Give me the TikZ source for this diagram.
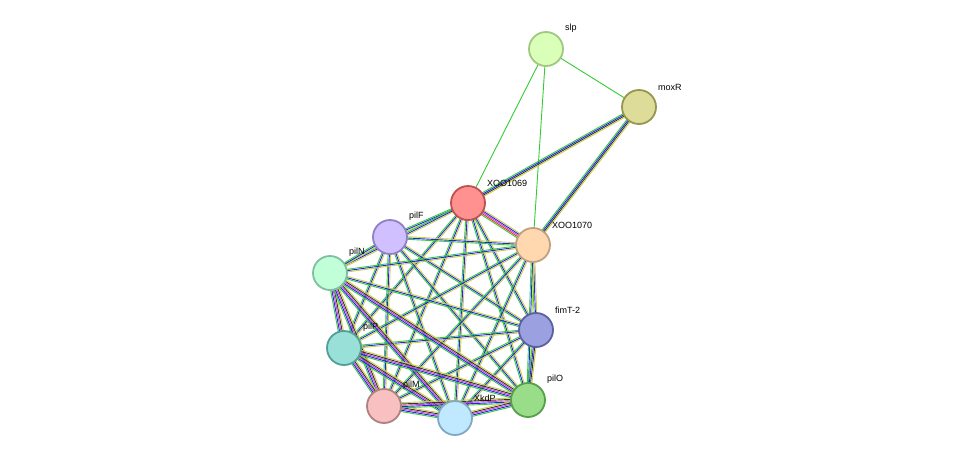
\documentclass[tikz,border=0pt]{standalone}
\usepackage{fontspec}
\setmainfont{Liberation Sans}
\usetikzlibrary{calc}
\definecolor{eg}{HTML}{33CC33}
\definecolor{eb}{HTML}{2222EE}
\definecolor{ey}{HTML}{CCCC44}
\definecolor{em}{HTML}{CC44CC}
\definecolor{ek}{HTML}{333333}
\definecolor{er}{HTML}{EE3333}
\tikzset{prot/.style={circle,draw,line width=1.8pt,minimum size=34pt,inner sep=0pt},
 lab/.style={font=\fontsize{9}{10}\selectfont,anchor=south west,inner sep=1pt}}
\newcommand{\pedge}[4]{% a b n colors
 \foreach \c [count=\i] in {#4}{
  \pgfmathsetmacro{\o}{(\i-(#3+1)/2)*1.3}
  \draw[\c,line width=0.9pt] ($(#1)!\o pt!90:(#2)$) -- ($(#2)!\o pt!-90:(#1)$);
 }}
\begin{document}
\begin{tikzpicture}[x=1pt,y=-1pt]
\useasboundingbox (0,0) rectangle (975,464);
\coordinate (slp) at (546,49);
\coordinate (moxR) at (639,107);
\coordinate (x69) at (468,203);
\coordinate (pilF) at (390,237);
\coordinate (x70) at (533,245);
\coordinate (pilN) at (330,273);
\coordinate (fimT) at (536,330);
\coordinate (pilP) at (344,348);
\coordinate (pilM) at (384,406);
\coordinate (XkdP) at (455,418);
\coordinate (pilO) at (528,400);
\pedge{slp}{x69}{1}{eg}
\pedge{slp}{x70}{1}{eg}
\pedge{slp}{moxR}{1}{eg}
\pedge{moxR}{x69}{4}{eg,eb,ek,ey}
\pedge{moxR}{x70}{4}{eg,eb,ek,ey}
\pedge{x69}{x70}{5}{eg,er,em,eb,ey}
\foreach \a/\b in {x69/pilF,x69/pilN,x69/fimT,x69/pilP,x69/pilM,x69/XkdP,x69/pilO,
  pilF/x70,pilF/pilN,pilF/fimT,pilF/pilP,pilF/pilM,pilF/XkdP,pilF/pilO,
  x70/pilN,x70/fimT,x70/pilP,x70/pilM,x70/XkdP,x70/pilO,
  pilN/fimT,fimT/pilP,fimT/pilM,fimT/XkdP}
 {\pedge{\a}{\b}{3}{eg,eb,ey}}
\pedge{fimT}{pilO}{4}{eg,eb,ek,ey}
\foreach \a/\b in {pilN/pilP,pilN/pilM,pilN/XkdP,pilN/pilO,pilP/pilM,pilP/XkdP,pilP/pilO,
  pilM/XkdP,pilM/pilO,XkdP/pilO}
 {\pedge{\a}{\b}{5}{eg,eb,em,ek,ey}}
\node[prot,fill={rgb,255:red,217;green,255;blue,184},draw={rgb,255:red,160;green,200;blue,128}] (nslp) at (slp) {};
\node[prot,fill={rgb,255:red,221;green,221;blue,153},draw={rgb,255:red,150;green,150;blue,80}] (nmox) at (moxR) {};
\node[prot,fill={rgb,255:red,255;green,145;blue,145},draw={rgb,255:red,190;green,80;blue,80}] (n69) at (x69) {};
\node[prot,fill={rgb,255:red,208;green,192;blue,255},draw={rgb,255:red,145;green,128;blue,195}] (nF) at (pilF) {};
\node[prot,fill={rgb,255:red,255;green,216;blue,176},draw={rgb,255:red,192;green,160;blue,128}] (n70) at (x70) {};
\node[prot,fill={rgb,255:red,192;green,255;blue,216},draw={rgb,255:red,128;green,192;blue,160}] (nN) at (pilN) {};
\node[prot,fill={rgb,255:red,154;green,160;blue,224},draw={rgb,255:red,90;green,96;blue,160}] (nT) at (fimT) {};
\node[prot,fill={rgb,255:red,153;green,224;blue,216},draw={rgb,255:red,80;green,160;blue,152}] (nP) at (pilP) {};
\node[prot,fill={rgb,255:red,248;green,192;blue,192},draw={rgb,255:red,176;green,128;blue,128}] (nM) at (pilM) {};
\node[prot,fill={rgb,255:red,192;green,232;blue,255},draw={rgb,255:red,128;green,168;blue,192}] (nK) at (XkdP) {};
\node[prot,fill={rgb,255:red,153;green,221;blue,136},draw={rgb,255:red,85;green,160;blue,72}] (nO) at (pilO) {};
\node[lab] at (564,34) {slp};
\node[lab] at (657,92) {moxR};
\node[lab] at (486,188) {XOO1069};
\node[lab] at (408,222) {pilF};
\node[lab] at (551,230) {XOO1070};
\node[lab] at (348,258) {pilN};
\node[lab] at (554,315) {fimT-2};
\node[lab] at (362,333) {pilP};
\node[lab] at (402,391) {pilM};
\node[lab] at (473,403) {XkdP};
\node[lab] at (546,385) {pilO};
\end{tikzpicture}
\end{document}
